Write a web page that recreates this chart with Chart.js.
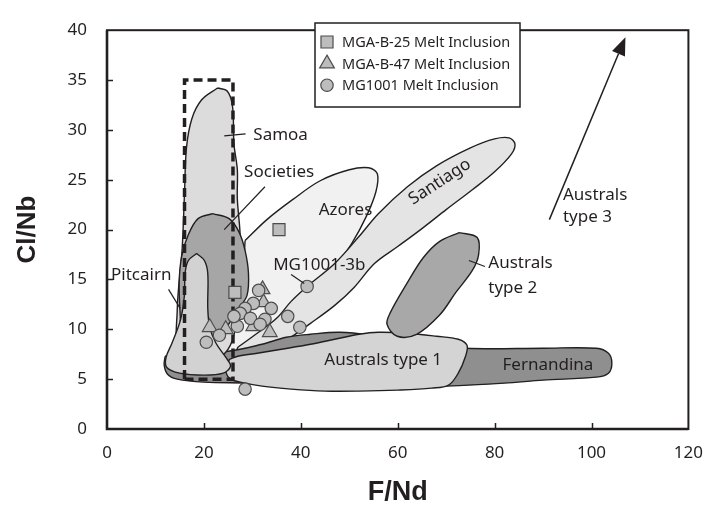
<!DOCTYPE html>
<html>
<head>
<meta charset="utf-8">
<script src="https://cdn.jsdelivr.net/npm/chart.js@4.4.1/dist/chart.umd.min.js"></script>
<style>
    html, body { margin: 0; padding: 0; background: #fff; }
    #wrap { width: 717px; height: 511px; }
</style>
</head>
<body>
<div id="wrap"><canvas id="chart" width="717" height="511"></canvas></div>
<script>
// axis ticks
const xTicks = [0, 20, 40, 60, 80, 100, 120];
const yTicks = [0, 5, 10, 15, 20, 25, 30, 35, 40];

// melt inclusions [F/Nd, Cl/Nb]
const mgaB25 = [[26.4, 13.7], [35.5, 20.0]];
const mgaB47 = [[21.2, 10.2], [24.5, 10.0], [30.2, 10.3], [32.1, 14.0], [32.3, 12.7], [33.6, 9.7]];
const mg1001 = [
    [41.3, 14.3], [31.3, 13.9], [30.2, 12.6], [28.5, 12.1], [27.5, 11.6], [33.9, 12.1],
    [29.6, 11.1], [32.6, 11.0], [26.9, 10.3], [31.6, 10.5], [37.3, 11.3], [39.8, 10.2],
    [23.2, 9.4], [20.5, 8.7], [28.5, 4.0], [26.2, 11.3]
];

// field outlines
const azores = [[28.5, 18.9], [33, 21], [38.3, 23], [44, 24.9], [50, 26], [54, 26.2], [55.8, 25.6], [55.5, 23.8],
    [53.5, 21.3], [50.5, 18.6], [47, 16.2], [42, 13], [36, 9.5], [30, 7.2], [24, 6], [20.5, 5.8], [20.5, 7],
    [23, 8.6], [26, 11], [27.5, 14], [28.2, 16.5]];
const santiago = [[27, 8.2], [31, 9.6], [35, 11.1], [38, 12.8], [41.3, 14.3], [47, 16.6], [52, 19.3], [56, 21.6],
    [62, 24.3], [68, 26.4], [75, 28.2], [80, 29.1], [83, 29.2], [84.2, 28.6], [83.5, 27.6], [80, 25.8], [75.4, 24],
    [70, 22], [65, 20.1], [60, 18.3], [55.2, 16.6], [51, 14.2], [47, 12.4], [42, 10.6], [37, 8.9], [32, 7.6],
    [28, 7.0], [26.5, 7.4]];
const fernandina = [[12, 7.3], [15, 7.6], [25, 7.8], [32, 8.5], [37, 9.2], [42, 9.5], [48, 9.7], [54, 9.4], [60, 8.7],
    [74, 8.1], [90, 8.1], [101, 8.1], [103.5, 7.6], [104.2, 6.6], [103.5, 5.6], [101, 5.2], [90, 4.9], [82, 4.6],
    [70, 4.3], [60, 4.2], [50, 4.1], [40, 4.3], [30, 4.6], [20, 4.7], [14.5, 5.0], [12.5, 5.5], [11.8, 6.4]];
const australs1 = [[25.3, 7.0], [27, 7.3], [31, 7.6], [36, 8.0], [42, 8.5], [47, 9.0], [52, 9.5], [56, 9.7], [62, 9.6],
    [68, 9.3], [72.5, 9.0], [74.3, 8.4], [74, 7.3], [72.5, 5.6], [70.5, 4.4], [67, 4.1], [60, 3.9], [52, 3.8],
    [45, 3.8], [38, 4.0], [32, 4.3], [27.5, 4.7], [25.5, 5.0], [24.6, 5.6], [24.7, 6.4]];
const australs2 = [[72.7, 19.7], [76.4, 19.2], [76.7, 17.5], [75.4, 15.9], [72, 13.7], [68.6, 11.4], [63.9, 9.5],
    [59.9, 9.3], [57.8, 10.5], [58.5, 11.7], [61.9, 14.6], [65.3, 17.2], [68.6, 18.8]];
const samoa = [[22.8, 34.2], [24.8, 33.9], [25.9, 32.4], [26.2, 28.6], [26.9, 26.0], [26.9, 23.1], [27.5, 19], [27, 12],
    [25, 8], [20, 6.5], [15, 7], [14.5, 12], [15.5, 18], [16, 23.7], [16.4, 28.2], [17.5, 31.1], [19.5, 33.0]];
const societies = [[21.8, 21.6], [25.2, 21.1], [27.2, 19.8], [28.5, 17.9], [29.2, 15.6], [28.9, 13.4], [27.2, 12.1],
    [25.5, 10.8], [23.5, 9.5], [21, 8.6], [18, 8], [15.6, 8.2], [15.1, 11.5], [14.9, 14.7], [15.4, 17.3],
    [16.8, 19.5], [18.8, 21.1]];
const pitcairn = [[18.5, 17.6], [20.1, 16.9], [20.8, 15.6], [20.8, 12.1], [21.2, 10.2], [22.5, 8.6], [24.5, 7.2],
    [25.5, 6.3], [24, 5.6], [20, 5.4], [15, 5.6], [12.3, 6.2], [12.2, 7.2], [13.4, 8.6], [15.2, 11], [16, 13.5],
    [16.1, 15.6], [16.8, 16.9]];
const dashedBox = [[16, 5], [26, 5], [26, 35], [16, 35], [16, 5]];

const INK = '#231f20';

function closed(pts) {
    const out = pts.map(p => ({ x: p[0], y: p[1] }));
    out.push({ x: pts[0][0], y: pts[0][1] });
    return out;
}

function field(name, pts, fillColor, order) {
    return {
        label: name,
        data: closed(pts),
        showLine: true,
        fill: 'shape',
        backgroundColor: fillColor,
        borderColor: INK,
        borderWidth: 1.4,
        pointRadius: 0,
        tension: 0.35,
        order: order
    };
}

function markers(name, pts, style, radius, order) {
    return {
        label: name,
        data: pts.map(p => ({ x: p[0], y: p[1] })),
        pointStyle: style,
        pointRadius: radius,
        pointBackgroundColor: '#bdbdbd',
        pointBorderColor: '#4d4d4d',
        pointBorderWidth: 1.2,
        showLine: false,
        order: order
    };
}

// axis frame with inward ticks
const framePlugin = {
    id: 'frame',
    afterDatasetsDraw(chart) {
        const { ctx, chartArea: a, scales } = chart;
        ctx.save();
        ctx.strokeStyle = INK;
        ctx.lineWidth = 1.5;
        xTicks.slice(1, -1).forEach(v => {
            const px = Math.round(scales.x.getPixelForValue(v)) + 0.5;
            ctx.beginPath(); ctx.moveTo(px, a.bottom); ctx.lineTo(px, a.bottom - 6); ctx.stroke();
        });
        yTicks.slice(1, -1).forEach(v => {
            const py = Math.round(scales.y.getPixelForValue(v)) + 0.5;
            ctx.beginPath(); ctx.moveTo(a.left, py); ctx.lineTo(a.left + 6, py); ctx.stroke();
        });
        ctx.lineWidth = 2;
        ctx.strokeRect(a.left, a.top, a.right - a.left, a.bottom - a.top);
        ctx.lineWidth = 2.6;
        ctx.beginPath();
        ctx.moveTo(a.left, a.top); ctx.lineTo(a.left, a.bottom); ctx.lineTo(a.right, a.bottom);
        ctx.stroke();
        ctx.restore();
    }
};

// field names, leader lines and the Australs type 3 arrow
const notesPlugin = {
    id: 'notes',
    afterDatasetsDraw(chart) {
        const { ctx, scales } = chart;
        const X = v => scales.x.getPixelForValue(v);
        const Y = v => scales.y.getPixelForValue(v);
        ctx.save();
        ctx.fillStyle = INK;
        ctx.strokeStyle = INK;
        ctx.lineWidth = 1.2;
        ctx.font = '17px "Noto Sans"';
        ctx.textBaseline = 'middle';

        const texts = [
            ['Samoa', 30.2, 29.5, 'left'],
            ['Societies', 28.3, 25.8, 'left'],
            ['Azores', 43.7, 22.0, 'left'],
            ['MG1001-3b', 34.3, 16.4, 'left'],
            ['Pitcairn', 13.3, 15.4, 'right'],
            ['Australs type 1', 57, 6.9, 'center'],
            ['Fernandina', 91, 6.4, 'center'],
            ['Australs', 78.7, 16.6, 'left'],
            ['type 2', 78.7, 14.1, 'left'],
            ['Australs', 94.1, 23.5, 'left'],
            ['type 3', 94.1, 21.2, 'left']
        ];
        texts.forEach(([t, x, y, al]) => {
            ctx.textAlign = al;
            ctx.fillText(t, X(x), Y(y));
        });

        ctx.save();
        ctx.translate(X(68.7), Y(24.8));
        ctx.rotate(-33 * Math.PI / 180);
        ctx.textAlign = 'center';
        ctx.fillText('Santiago', 0, 0);
        ctx.restore();

        const leaders = [
            [24.2, 29.4, 28.6, 29.6],
            [24.2, 20.0, 32.6, 24.3],
            [38.0, 15.5, 40.7, 14.6],
            [12.7, 14.0, 15.1, 12.1],
            [74.7, 16.9, 78.0, 16.3]
        ];
        leaders.forEach(([x1, y1, x2, y2]) => {
            ctx.beginPath(); ctx.moveTo(X(x1), Y(y1)); ctx.lineTo(X(x2), Y(y2)); ctx.stroke();
        });

        // arrow
        const bx = X(91.3), by = Y(21.0), tx = X(107), ty = Y(39.3);
        const ang = Math.atan2(ty - by, tx - bx);
        const hl = 18, hw = 7;
        const sx = tx - hl * Math.cos(ang), sy = ty - hl * Math.sin(ang);
        ctx.lineWidth = 1.5;
        ctx.beginPath(); ctx.moveTo(bx, by); ctx.lineTo(sx, sy); ctx.stroke();
        ctx.beginPath();
        ctx.moveTo(tx, ty);
        ctx.lineTo(sx + hw * Math.sin(ang), sy - hw * Math.cos(ang));
        ctx.lineTo(sx - hw * Math.sin(ang), sy + hw * Math.cos(ang));
        ctx.closePath();
        ctx.fill();
        ctx.restore();
    }
};

// boxed legend for the three melt inclusion sets
const legendPlugin = {
    id: 'boxLegend',
    afterDraw(chart) {
        const { ctx } = chart;
        ctx.save();
        ctx.fillStyle = '#fff';
        ctx.fillRect(315, 23, 205, 84);
        ctx.strokeStyle = INK;
        ctx.lineWidth = 1.5;
        ctx.strokeRect(315, 23, 205, 84);
        const rows = [[0, 'rect', 8.5, 'MGA-B-25 Melt Inclusion'], [1, 'triangle', 8.5, 'MGA-B-47 Melt Inclusion'], [2, 'circle', 6.2, 'MG1001 Melt Inclusion']];
        ctx.font = '14.5px "Noto Sans"';
        ctx.textBaseline = 'middle';
        ctx.textAlign = 'left';
        rows.forEach(([i, style, r, label]) => {
            const y = 42 + i * 21.6;
            ctx.fillStyle = '#bdbdbd';
            ctx.strokeStyle = '#4d4d4d';
            ctx.lineWidth = 1.2;
            Chart.helpers.drawPoint(ctx, { pointStyle: style, radius: r, borderWidth: 1.2 }, 327, y);
            ctx.fillStyle = INK;
            ctx.fillText(label, 342, y + 1);
        });
        ctx.restore();
    }
};

const tickFont = { family: '"Noto Sans"', size: 17 };

new Chart(document.getElementById('chart'), {
    type: 'scatter',
    data: {
        datasets: [
            markers('MG1001 Melt Inclusion', mg1001, 'circle', 6.2, 1),
            markers('MGA-B-47 Melt Inclusion', mgaB47, 'triangle', 8.5, 2),
            markers('MGA-B-25 Melt Inclusion', mgaB25, 'rect', 8.5, 3),
            {
                label: 'box',
                data: dashedBox.map(p => ({ x: p[0], y: p[1] })),
                showLine: true,
                fill: false,
                borderColor: INK,
                borderWidth: 3.5,
                borderDash: [9, 5],
                pointRadius: 0,
                order: 4
            },
            field('Pitcairn', pitcairn, '#d2d2d2', 5),
            field('Societies', societies, '#a6a6a6', 6),
            field('Samoa', samoa, '#dcdcdc', 7),
            field('Australs type 2', australs2, '#a8a8a8', 8),
            field('Australs type 1', australs1, '#d4d4d4', 9),
            field('Fernandina', fernandina, '#8f8f8f', 10),
            field('Santiago', santiago, '#e4e4e4', 11),
            field('Azores', azores, '#f1f1f1', 12)
        ]
    },
    options: {
        responsive: false,
        animation: false,
        layout: { padding: { left: 0, right: 17, top: 15, bottom: 0 } },
        plugins: {
            legend: { display: false },
            tooltip: { enabled: false }
        },
        scales: {
            x: {
                type: 'linear', min: 0, max: 120,
                afterFit: s => { s.height = 82; },
                afterBuildTicks: s => { s.ticks = xTicks.map(v => ({ value: v })); },
                grid: { display: true, drawOnChartArea: false, drawTicks: false },
                border: { display: false },
                ticks: { font: tickFont, color: INK, padding: 14, maxRotation: 0 },
                title: { display: true, text: 'F/Nd', color: INK, font: { family: '"Liberation Sans"', size: 27, weight: 'bold' }, padding: { top: 0, bottom: 2 } }
            },
            y: {
                type: 'linear', min: 0, max: 40,
                afterFit: s => { s.width = 107; },
                afterBuildTicks: s => { s.ticks = yTicks.map(v => ({ value: v })); },
                grid: { display: true, drawOnChartArea: false, drawTicks: false },
                border: { display: false },
                ticks: { font: tickFont, color: INK, padding: 20 },
                title: { display: true, text: 'Cl/Nb', color: INK, font: { family: '"Liberation Sans"', size: 26, weight: 'bold' }, padding: { top: 12, bottom: 0 } }
            }
        }
    },
    plugins: [framePlugin, notesPlugin, legendPlugin]
});
</script>
</body>
</html>
